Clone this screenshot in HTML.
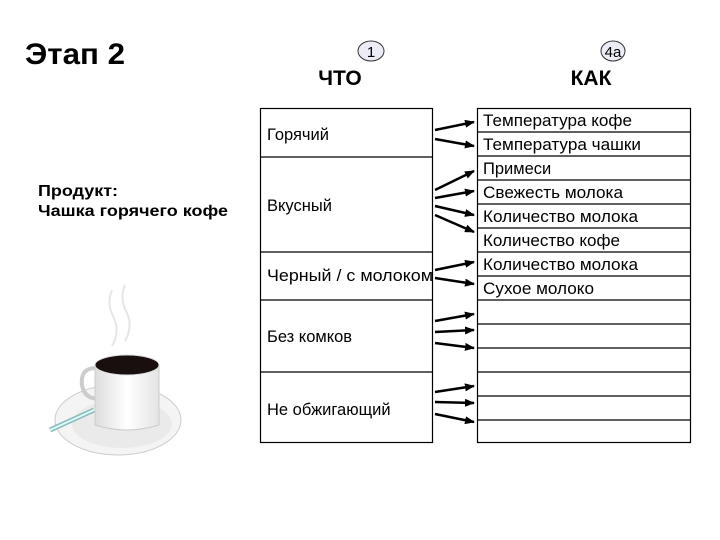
<!DOCTYPE html>
<html><head><meta charset="utf-8"><style>
html,body{margin:0;padding:0;background:#fff;}
svg{display:block;font-family:"Liberation Sans",Arial,sans-serif;}
</style></head><body>
<svg width="720" height="540" viewBox="0 0 720 540" xmlns="http://www.w3.org/2000/svg">
<defs>
<marker id="ah" markerWidth="10" markerHeight="8" refX="9" refY="4" orient="auto" markerUnits="userSpaceOnUse">
<path d="M0,0 L10,4 L0,8 Z" fill="#000"/>
</marker>
<linearGradient id="cup" x1="0" x2="1"><stop offset="0" stop-color="#ddd"/><stop offset="0.5" stop-color="#fff"/><stop offset="1" stop-color="#e4e4e4"/></linearGradient>
</defs>
<text x="25" y="64" font-size="30" font-weight="bold" textLength="100" lengthAdjust="spacingAndGlyphs">Этап 2</text>
<text x="38" y="196" font-size="16" font-weight="bold" textLength="80" lengthAdjust="spacingAndGlyphs">Продукт:</text>
<text x="38" y="216" font-size="16" font-weight="bold" textLength="190" lengthAdjust="spacingAndGlyphs">Чашка горячего кофе</text>

<ellipse cx="371" cy="51" rx="13" ry="10" fill="#ececf6" stroke="#333" stroke-width="1"/>
<text x="371" y="57" font-size="15" text-anchor="middle">1</text>
<text x="340" y="85" font-size="21" font-weight="bold" text-anchor="middle">ЧТО</text>
<ellipse cx="613" cy="51" rx="12" ry="10" fill="#ececf6" stroke="#333" stroke-width="1"/>
<text x="613" y="57" font-size="15" text-anchor="middle">4a</text>
<text x="591" y="85" font-size="21" font-weight="bold" text-anchor="middle">КАК</text>

<g fill="none" stroke="#000" stroke-width="1.2">
<rect x="260.5" y="108.5" width="172" height="334"/>
<line x1="260" y1="157" x2="433" y2="157"/>
<line x1="260" y1="252" x2="433" y2="252"/>
<line x1="260" y1="300" x2="433" y2="300"/>
<line x1="260" y1="372" x2="433" y2="372"/>
<rect x="477.5" y="108.5" width="213" height="334"/>
<line x1="477" y1="132" x2="691" y2="132"/>
<line x1="477" y1="156" x2="691" y2="156"/>
<line x1="477" y1="180" x2="691" y2="180"/>
<line x1="477" y1="204" x2="691" y2="204"/>
<line x1="477" y1="228" x2="691" y2="228"/>
<line x1="477" y1="252" x2="691" y2="252"/>
<line x1="477" y1="276" x2="691" y2="276"/>
<line x1="477" y1="300" x2="691" y2="300"/>
<line x1="477" y1="324" x2="691" y2="324"/>
<line x1="477" y1="348" x2="691" y2="348"/>
<line x1="477" y1="372" x2="691" y2="372"/>
<line x1="477" y1="396" x2="691" y2="396"/>
<line x1="477" y1="420" x2="691" y2="420"/>
</g>
<g font-size="16.5">
<text x="267" y="140">Горячий</text>
<text x="267" y="211">Вкусный</text>
<text x="267" y="281" textLength="166" lengthAdjust="spacingAndGlyphs">Черный / с молоком</text>
<text x="267" y="342">Без комков</text>
<text x="267" y="415">Не обжигающий</text>
<text x="483" y="126" textLength="149" lengthAdjust="spacingAndGlyphs">Температура кофе</text>
<text x="483" y="150" textLength="158" lengthAdjust="spacingAndGlyphs">Температура чашки</text>
<text x="483" y="174">Примеси</text>
<text x="483" y="198" textLength="140" lengthAdjust="spacingAndGlyphs">Свежесть молока</text>
<text x="483" y="222" textLength="155" lengthAdjust="spacingAndGlyphs">Количество молока</text>
<text x="483" y="246" textLength="137" lengthAdjust="spacingAndGlyphs">Количество кофе</text>
<text x="483" y="270" textLength="155" lengthAdjust="spacingAndGlyphs">Количество молока</text>
<text x="483" y="294" textLength="111" lengthAdjust="spacingAndGlyphs">Сухое молоко</text>
</g>
<g stroke="#000" stroke-width="2.5" marker-end="url(#ah)">
<line x1="435" y1="130" x2="474" y2="122"/>
<line x1="435" y1="139" x2="474" y2="146"/>
<line x1="435" y1="190" x2="474" y2="171"/>
<line x1="435" y1="198" x2="474" y2="191"/>
<line x1="435" y1="206" x2="474" y2="215"/>
<line x1="435" y1="215" x2="474" y2="232"/>
<line x1="435" y1="270" x2="474" y2="262"/>
<line x1="435" y1="278" x2="474" y2="284"/>
<line x1="435" y1="321" x2="474" y2="314"/>
<line x1="435" y1="332" x2="474" y2="330"/>
<line x1="435" y1="343" x2="474" y2="348"/>
<line x1="435" y1="392" x2="474" y2="386"/>
<line x1="435" y1="402" x2="474" y2="403"/>
<line x1="435" y1="414" x2="474" y2="422"/>
</g>
<!-- coffee cup -->
<g>
<path d="M112,290 q-6,14 2,28 q6,14 -2,28" stroke="#e6e6e6" stroke-width="2" fill="none"/>
<path d="M125,285 q-6,14 2,28 q6,14 -2,28" stroke="#e6e6e6" stroke-width="2" fill="none"/>
<ellipse cx="118" cy="420" rx="63" ry="35" fill="#f4f4f4" stroke="#ccc"/>
<ellipse cx="122" cy="424" rx="50" ry="24" fill="#eaeaea"/>
<path d="M50,430 L94,410" stroke="#8bb" stroke-width="5"/>
<path d="M50,430 L94,410" stroke="#dff" stroke-width="2"/>
<path d="M96,368 q-16,0 -14,17 q2,14 18,14" stroke="#ccc" stroke-width="4" fill="none"/>
<path d="M95,365 L95,425 q32,10 64,0 L159,365 Z" fill="url(#cup)" stroke="#ccc"/>
<ellipse cx="127" cy="365" rx="32" ry="10" fill="#1a0f0f" stroke="#ddd"/>
</g>
</svg>
</body></html>
